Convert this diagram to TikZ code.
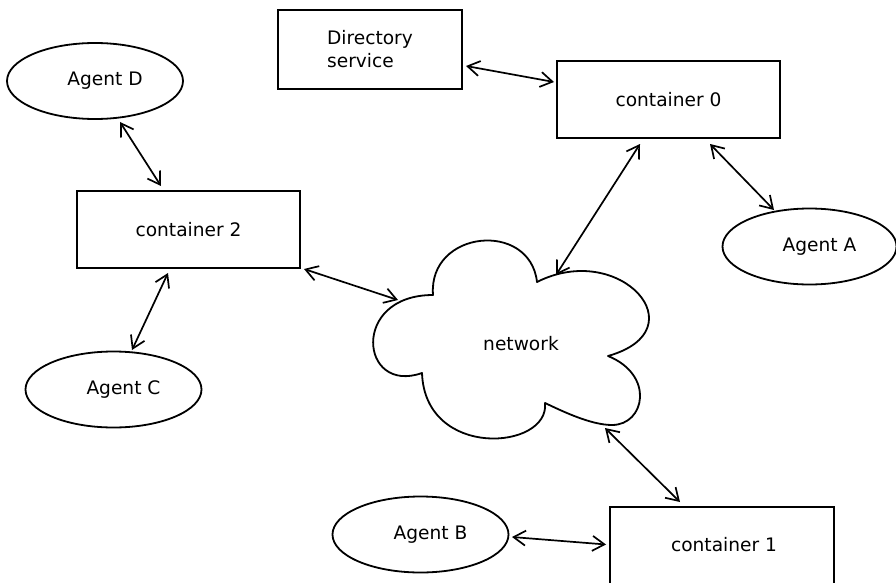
\documentclass[tikz,border=0pt]{standalone}
\usepackage{fontspec}
\setmainfont{DejaVu Sans}
\usetikzlibrary{arrows.meta,calc,shapes.geometric}
\begin{document}
\begin{tikzpicture}[x=1pt,y=-1pt,
  every node/.style={font=\fontsize{18.6}{23}\selectfont},
  box/.style={draw,line width=2pt,rectangle,inner sep=0pt},
  agent/.style={draw,line width=1.8pt,ellipse,inner sep=0pt,
    minimum width=176pt,minimum height=76pt},
  agentlabel/.style={label={[xshift=10pt]center:#1}},
  link/.style={line width=1.7pt,{Straight Barb[length=12pt,width=15pt]}-{Straight Barb[length=12pt,width=15pt]}},
  cloudline/.style={draw,line width=1.8pt,line join=round},
]
\useasboundingbox (0,0) rectangle (896,583);

% containers and directory
\node[box,minimum width=184pt,minimum height=79pt,align=left] (dir) at (370,49.5) {Directory\\service};
\node[box,minimum width=223pt,minimum height=77pt] (c0) at (668.5,99.5) {container 0};
\node[box,minimum width=223pt,minimum height=77pt] (c2) at (188.5,229.5) {container 2};
\node[box,minimum width=224pt,minimum height=80pt] (c1) at (722,547) {};
\node (c1text) at (724,545) {container 1};

% agents
\node[agent,agentlabel={Agent D}] (ad) at (95,81) {};
\node[agent,minimum width=174pt,agentlabel={Agent A}] (aa) at (809.5,246.5) {};
\node[agent,agentlabel={Agent C}] (ac) at (113.5,389.5) {};
\node[agent,agentlabel={Agent B}] (ab) at (420.5,534.5) {};

% network cloud
\path[cloudline] (433,295)
  .. controls (428,230) and (530,220) .. (537,282)
  .. controls (620,240) and (700,330) .. (608,356)
  .. controls (655,375) and (645,425) .. (612,425)
  .. controls (590,425) and (560,410) .. (545,403)
  .. controls (550,450) and (425,460) .. (422,373)
  .. controls (360,395) and (350,295) .. (433,295) -- cycle;
\node (net) at (521,344) {network};
\coordinate (netw) at (398,300);
\coordinate (netn) at (556,275);
\coordinate (nets) at (605,428);

% links
\draw[link] ($(dir.east)+(3,16.5)$) -- ($(c0.west)+(-2,-17.5)$);
\draw[link] ($(ad.center)+(25,41)$) -- ($(c2.north)+(-27.5,-4)$);
\draw[link] ($(c2.south)+(-20.5,4)$) -- ($(ac.center)+(18.5,-39.5)$);
\draw[link] ($(c2.south east)+(3,0)$) -- (netw);
\draw[link] ($(c0.south)+(-28.5,5)$) -- (netn);
\draw[link] ($(c0.south)+(41.5,5)$) -- ($(aa.center)+(-35.5,-36.5)$);
\draw[link] (nets) -- ($(c1.north)+(-42,-4)$);
\draw[link] ($(ab.center)+(91.5,2.5)$) -- ($(c1.west)+(-3,-2.5)$);
\end{tikzpicture}
\end{document}
